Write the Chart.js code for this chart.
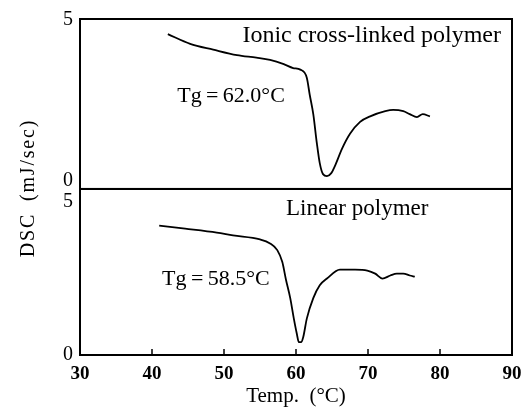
<!DOCTYPE html>
<html>
<head>
<meta charset="utf-8">
<script src="https://cdn.jsdelivr.net/npm/chart.js@4/dist/chart.umd.min.js"></script>
<style>
html,body{margin:0;padding:0;background:#fff;}
#wrap{width:530px;height:409px;position:relative;}
</style>
</head>
<body>
<div id="wrap"><canvas id="c" width="530" height="409"></canvas></div>
<script>
// Ionic cross-linked polymer (top panel)
const ionicTemp = [42.2,45.3,48.5,51.8,54.5,56.4,58.3,59.6,60.6,61.5,61.9,62.4,62.9,63.3,63.75,64.3,64.9,65.4,66.4,67.5,68.9,70.3,72.4,73.5,74.9,75.8,76.8,77.6,78.6];
const ionicDSC  = [4.55,4.25,4.07,3.9,3.82,3.75,3.62,3.5,3.45,3.2,2.68,2.07,1.16,0.55,0.21,0.15,0.24,0.46,1.0,1.46,1.83,2.0,2.16,2.2,2.16,2.07,1.98,2.07,2.0];
// Linear polymer (bottom panel)
const linearTemp = [41.0,44.6,49.0,51.25,55.0,56.4,57.4,58.1,58.6,59.2,59.7,60.1,60.4,60.7,61.0,61.5,62.4,63.3,64.3,66.1,68.2,69.9,71.0,72.0,73.1,74.0,74.9,75.8,76.5];
const linearDSC  = [4.23,4.13,4.0,3.91,3.78,3.65,3.43,3.04,2.47,1.86,1.19,0.71,0.42,0.42,0.58,1.19,1.86,2.28,2.5,2.79,2.79,2.76,2.66,2.5,2.6,2.66,2.66,2.6,2.56];
const xTicks = [30,40,50,60,70,80,90];
const yTicks = [0,5];
const ionicLabel = "Ionic cross-linked polymer";
const linearLabel = "Linear polymer";
const ionicTg = "Tg\u2009=\u200962.0\u00B0C";
const linearTg = "Tg\u2009=\u200958.5\u00B0C";

const FONT = "'Liberation Serif','Times New Roman',serif";
const toPts = (xs, ys) => xs.map((x, i) => ({x: x, y: ys[i]}));

const framePlugin = {
  id: 'frame',
  afterDraw(chart) {
    const ctx = chart.ctx, a = chart.chartArea;
    const yT = chart.scales.yT, yB = chart.scales.yB, x = chart.scales.x;
    ctx.save();
    ctx.strokeStyle = '#000';
    ctx.lineWidth = 2;
    ctx.strokeRect(a.left, yT.top, a.right - a.left, yT.bottom - yT.top);
    ctx.strokeRect(a.left, yB.top, a.right - a.left, yB.bottom - yB.top);
    // inside ticks on the x axis
    ctx.lineWidth = 1.5;
    xTicks.slice(1, -1).forEach(v => {
      const px = x.getPixelForValue(v);
      ctx.beginPath();
      ctx.moveTo(px, yB.bottom);
      ctx.lineTo(px, yB.bottom - 6);
      ctx.stroke();
    });
    // annotations
    ctx.fillStyle = '#000';
    ctx.font = "24px " + FONT;
    ctx.textBaseline = 'middle';
    ctx.textAlign = 'right';
    ctx.fillText(ionicLabel, a.right - 11, yT.getPixelForValue(4.5));
    ctx.font = "23px " + FONT;
    ctx.textAlign = 'center';
    ctx.fillText(linearLabel, x.getPixelForValue(68.5), yB.getPixelForValue(4.76));
    ctx.font = "22px " + FONT;
    ctx.textAlign = 'left';
    ctx.fillText(ionicTg, x.getPixelForValue(43.5), yT.getPixelForValue(2.62));
    ctx.fillText(linearTg, x.getPixelForValue(41.4), yB.getPixelForValue(2.48));
    // y title
    ctx.save();
    ctx.translate(29, (yT.top + yB.bottom) / 2 + 1);
    ctx.rotate(-Math.PI / 2);
    ctx.textAlign = 'center';
    ctx.font = "20px " + FONT;
    ctx.letterSpacing = '1.8px';
    ctx.fillText("DSC\u2002(mJ/sec)", 0, 0);
    ctx.restore();
    ctx.restore();
  }
};

const yCommon = {
  type: 'linear',
  position: 'left',
  stack: 'dsc',
  offset: false,
  grid: {display: false, drawTicks: false},
  border: {display: false},
  afterBuildTicks: s => { s.ticks = yTicks.map(v => ({value: v})); },
  afterFit: s => { s.width = 80; },
  ticks: {
    padding: 7,
    color: '#000',
    font: {family: FONT, size: 20},
    callback: v => String(v)
  }
};

new Chart(document.getElementById('c'), {
  type: 'scatter',
  data: {
    datasets: [
      {label: ionicLabel, data: toPts(ionicTemp, ionicDSC), yAxisID: 'yT', showLine: true,
       borderColor: '#000', borderWidth: 1.8, pointRadius: 0, tension: 0.4, cubicInterpolationMode: 'monotone'},
      {label: linearLabel, data: toPts(linearTemp, linearDSC), yAxisID: 'yB', showLine: true,
       borderColor: '#000', borderWidth: 1.8, pointRadius: 0, tension: 0.4, cubicInterpolationMode: 'monotone'}
    ]
  },
  options: {
    responsive: false,
    animation: false,
    layout: {padding: {left: 0, right: 18, top: 13, bottom: 0}},
    plugins: {legend: {display: false}, tooltip: {enabled: false}},
    scales: {
      x: {
        type: 'linear',
        min: 30, max: 90,
        afterBuildTicks: s => { s.ticks = xTicks.map(v => ({value: v})); },
        afterFit: s => { s.height = 54; },
        grid: {display: false, drawTicks: false},
        border: {display: false},
        ticks: {padding: 8, color: '#000', font: {family: FONT, size: 19, weight: 'bold'}},
        title: {display: true, text: 'Temp.\u2002(\u00B0C)', color: '#000',
                font: {family: FONT, size: 21}, padding: {top: 0, bottom: 0}}
      },
      yB: Object.assign({}, yCommon, {min: 0, max: 5.43, stackWeight: 169, weight: 1}),
      yT: Object.assign({}, yCommon, {min: -0.25, max: 5.02, stackWeight: 173, weight: 2})
    }
  },
  plugins: [framePlugin]
});
</script>
</body>
</html>
